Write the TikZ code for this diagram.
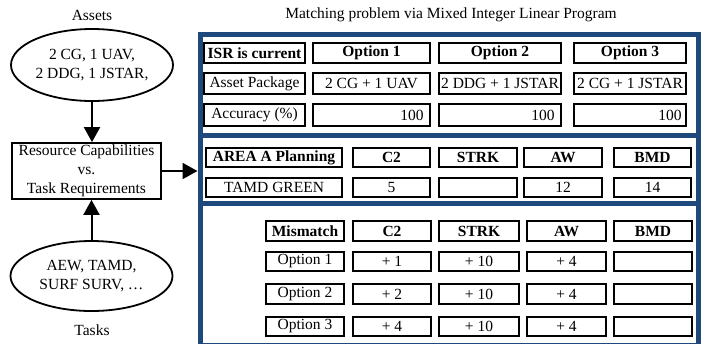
\documentclass[tikz,border=0pt]{standalone}
\usepackage{fontspec}
\setmainfont{Liberation Serif}
\usetikzlibrary{shapes.geometric,arrows.meta}
\definecolor{frameblue}{RGB}{31,73,125}
\tikzset{
  cellst/.style={draw=black, line width=1.8pt, inner sep=0pt, fill=white},
  panel/.style={draw=frameblue, line width=5pt},
  oval/.style={ellipse, draw, line width=1.8pt, inner sep=0pt, align=center},
  rcbox/.style={draw, line width=1.8pt, align=center, inner sep=0pt},
  conn/.style={line width=2pt, -{Triangle[length=15pt,width=16pt]}},
  lbl/.style={inner sep=0pt},
}
\newcommand\cellbox[6]{\node[cellst, minimum width={#4-#2-2}, minimum height={#5-#3-2}] (#1) at ({(#2+#4)/2},{(#3+#5)/2}) {#6};}
\begin{document}
\begin{tikzpicture}[x=1pt,y=-1pt,font=\fontsize{15.5}{19}\selectfont]
\useasboundingbox (0,0) rectangle (703,343);
% frame panels
\draw[panel] (200,34.5) rectangle (698,135.5);
\draw[panel] (200,135.5) rectangle (698,203.5);
\draw[panel] (200,203.5) rectangle (698,345);
% title and left side
\node[lbl] (title) at (451,15) {Matching problem via Mixed Integer Linear Program};
\node[lbl] (assetslbl) at (92,15) {Assets};
\node[oval, minimum width=162, minimum height=72] (assets) at (92,65) {2 CG, 1 UAV,\\2 DDG, 1 JSTAR,};
\node[rcbox, minimum width=149, minimum height=56] (rc) at (86.5,171) {Resource Capabilities\\vs.\\Task Requirements};
\node[oval, minimum width=162, minimum height=70] (tasks) at (91.5,276) {AEW, TAMD,\\SURF SURV, \ldots};
\node[lbl] (taskslbl) at (92,330) {Tasks};
\coordinate (fr) at (197.5,171);
\draw[conn] (assets.south) -- (assets.south |- rc.north);
\draw[conn] (tasks.north) -- (tasks.north |- rc.south);
\draw[conn] (rc.east) -- (fr);
% panel 1
\cellbox{h0}{203}{42}{306}{64}{\bfseries ISR is current}
\cellbox{h1}{312}{42}{431}{64}{\bfseries Option 1}
\cellbox{h2}{438}{42}{562}{64}{\bfseries Option 2}
\cellbox{h3}{573}{42}{687}{64}{\bfseries Option 3}
\cellbox{p0}{203}{72}{306}{95}{Asset Package}
\cellbox{p1}{312}{72}{431}{95}{2 CG + 1 UAV}
\cellbox{p2}{438}{72}{562}{95}{2 DDG + 1 JSTAR}
\cellbox{p3}{573}{72}{687}{95}{2 CG + 1 JSTAR}
\cellbox{a0}{203}{103}{306}{127}{Accuracy (\%)}
\cellbox{a1}{312}{103}{431}{127}{}
\cellbox{a2}{438}{103}{562}{127}{}
\cellbox{a3}{573}{103}{687}{127}{}
\node[lbl, anchor=east] (a1t) at ([xshift=-7pt]a1.east) {100};
\node[lbl, anchor=east] (a2t) at ([xshift=-7pt]a2.east) {100};
\node[lbl, anchor=east] (a3t) at ([xshift=-5pt]a3.east) {100};
% panel 2
\cellbox{b0}{205}{147}{343}{168}{\bfseries AREA A Planning}
\cellbox{b1}{352}{147}{431}{168}{\bfseries C2}
\cellbox{b2}{438}{147}{518}{168}{\bfseries STRK}
\cellbox{b3}{523}{147}{603}{168}{\bfseries AW}
\cellbox{b4}{613}{147}{692}{168}{\bfseries BMD}
\cellbox{t0}{205}{177}{343}{198}{TAMD GREEN}
\cellbox{t1}{352}{177}{431}{198}{5}
\cellbox{t2}{438}{177}{518}{198}{}
\cellbox{t3}{523}{177}{603}{198}{12}
\cellbox{t4}{613}{177}{692}{198}{14}
% panel 3
\cellbox{m0}{265}{220}{345}{242}{\bfseries Mismatch}
\cellbox{m1}{352}{220}{432}{242}{\bfseries C2}
\cellbox{m2}{438}{220}{520}{242}{\bfseries STRK}
\cellbox{m3}{526}{220}{607}{242}{\bfseries AW}
\cellbox{m4}{613}{220}{693}{242}{\bfseries BMD}
\cellbox{oa0}{265}{251}{345}{272}{Option 1}
\cellbox{oa1}{352}{251}{432}{272}{+ 1}
\cellbox{oa2}{438}{251}{520}{272}{+ 10}
\cellbox{oa3}{526}{251}{607}{272}{+ 4}
\cellbox{oa4}{613}{251}{693}{272}{}
\cellbox{ob0}{265}{283}{345}{305}{Option 2}
\cellbox{ob1}{352}{283}{432}{305}{+ 2}
\cellbox{ob2}{438}{283}{520}{305}{+ 10}
\cellbox{ob3}{526}{283}{607}{305}{+ 4}
\cellbox{ob4}{613}{283}{693}{305}{}
\cellbox{oc0}{265}{316}{345}{337}{Option 3}
\cellbox{oc1}{352}{316}{432}{337}{+ 4}
\cellbox{oc2}{438}{316}{520}{337}{+ 10}
\cellbox{oc3}{526}{316}{607}{337}{+ 4}
\cellbox{oc4}{613}{316}{693}{337}{}
\end{tikzpicture}
\end{document}
